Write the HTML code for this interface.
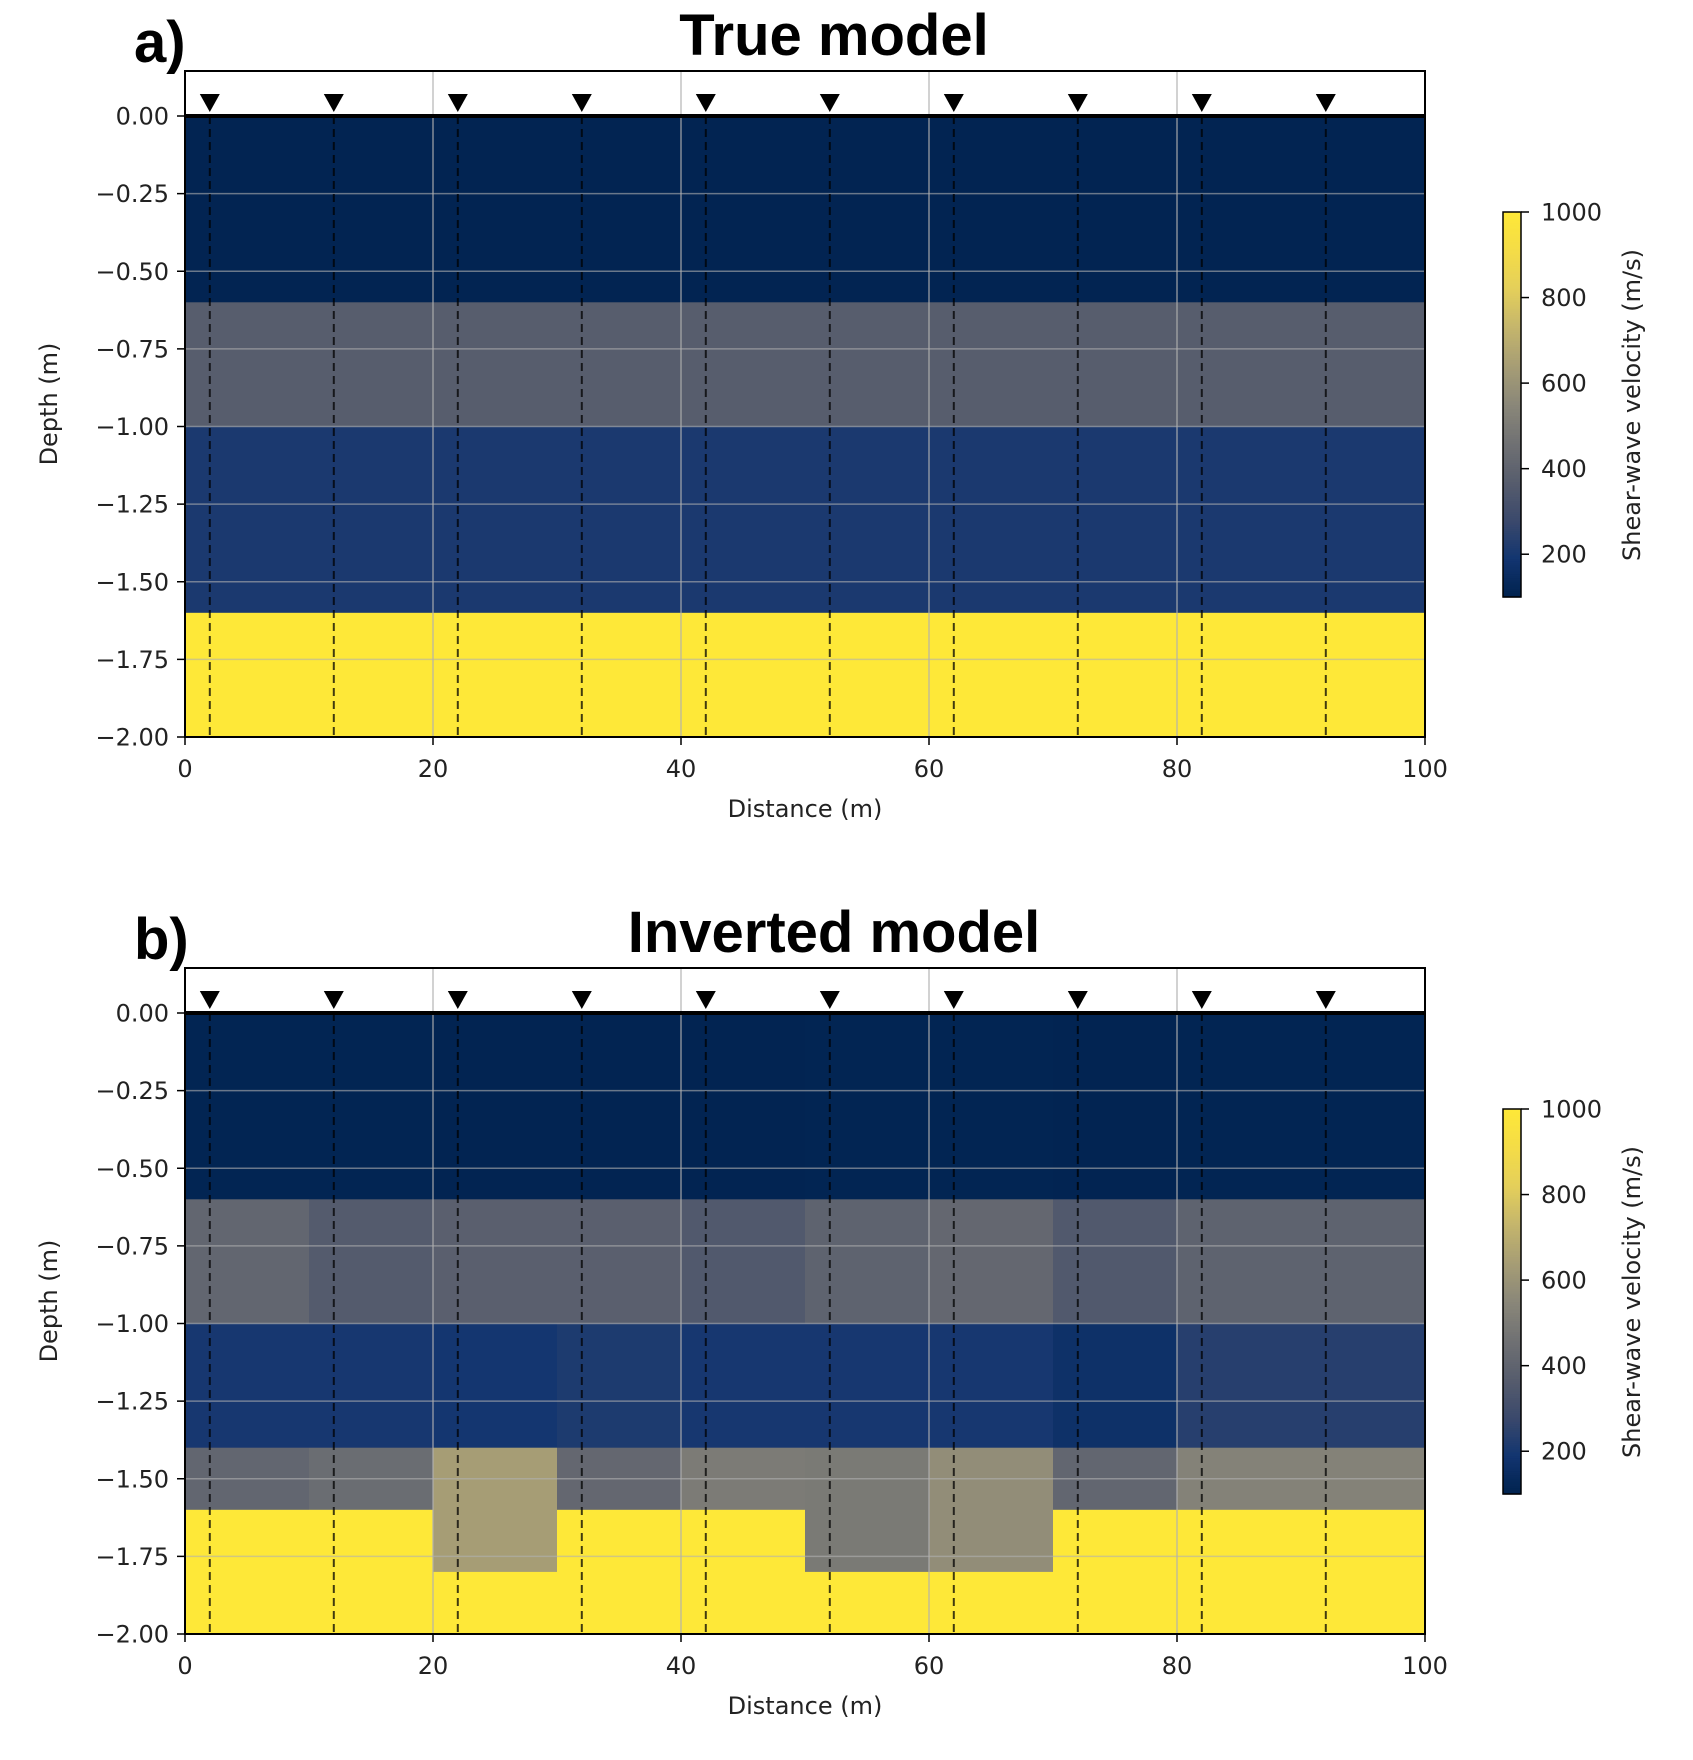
<!DOCTYPE html>
<html><head><meta charset="utf-8"><style>
html,body{margin:0;padding:0;background:#fff;}
svg{display:block;}
text{font-family:"DejaVu Sans","Liberation Sans",sans-serif;fill:#222;}
.bold{font-family:"Liberation Sans","DejaVu Sans",sans-serif;font-weight:bold;fill:#000;}
</style></head><body>
<svg id="fig" width="1693" height="1760" viewBox="0 0 1693 1760" xmlns="http://www.w3.org/2000/svg"></svg>
<script>
// ---- data ----
const xTicks = [0, 20, 40, 60, 80, 100];
const yTicks = [0, -0.25, -0.5, -0.75, -1.0, -1.25, -1.5, -1.75, -2.0];
const yTickLabels = ["0.00","\u22120.25","\u22120.50","\u22120.75","\u22121.00","\u22121.25","\u22121.50","\u22121.75","\u22122.00"];
const cbTicks = [200, 400, 600, 800, 1000];
const stations = [2, 12, 22, 32, 42, 52, 62, 72, 82, 92];
const colEdges = [0, 10, 20, 30, 40, 50, 60, 70, 80, 90, 100];
// true model layers
const trueTops = [0, -0.6, -1.0, -1.6];
const trueBottoms = [-0.6, -1.0, -1.6, -2.0];
const trueVel = [110, 370, 210, 1000];
// inverted model (per 10 m column)
const invL1 = [112, 112, 110, 110, 110, 112, 112, 110, 112, 112];
const invL2 = [410, 360, 380, 380, 350, 395, 415, 350, 395, 395];
const invL3 = [200, 200, 195, 215, 200, 200, 200, 170, 235, 235];
const invL4 = [410, 440, 640, 415, 500, 495, 575, 410, 530, 530];
const invL4Bottom = [-1.6, -1.6, -1.8, -1.6, -1.6, -1.8, -1.8, -1.6, -1.6, -1.6];
const invL5 = [1000, 1000, 1000, 1000, 1000, 1000, 1000, 1000, 1000, 1000];

const VMIN = 100, VMAX = 1000;
const cmap = ["#00224e","#123570","#3b496c","#575d6d","#707173","#8a8779","#a69d75","#c4b56c","#e4cf5b","#f4dc47","#fee838"];
function hex(c){return [parseInt(c.substr(1,2),16),parseInt(c.substr(3,2),16),parseInt(c.substr(5,2),16)];}
function color(v){
  let t=(v-VMIN)/(VMAX-VMIN); t=Math.max(0,Math.min(1,t));
  const f=t*(cmap.length-1); const i=Math.min(cmap.length-2,Math.floor(f)); const r=f-i;
  const a=hex(cmap[i]), b=hex(cmap[i+1]);
  return "rgb("+a.map((x,k)=>Math.round(x+(b[k]-x)*r)).join(",")+")";
}

const NS="http://www.w3.org/2000/svg";
const svg=document.getElementById("fig");
function el(tag, attrs, parent, txt){
  const e=document.createElementNS(NS,tag);
  for(const k in attrs) e.setAttribute(k,attrs[k]);
  if(txt!==undefined) e.textContent=txt;
  (parent||svg).appendChild(e); return e;
}

function panel(off, label, title, layers, key){
  const L=185, R=1425, T=71+off, Y0=116+off, Y2=737+off;
  const X=v=>L+(v/100)*(R-L);
  const Y=d=>Y0+(d/-2)*(Y2-Y0);
  const g=el("g",{});
  
  
  // cells
  layers.forEach(c=>{
    const r=el("rect",{x:X(c.x0),y:Y(c.top),width:X(c.x1)-X(c.x0)+0.5,height:Y(c.bot)-Y(c.top)+0.5,fill:color(c.v)},g);
    
    
  });
  // grid
  xTicks.forEach(t=>{const l=el("line",{x1:X(t),x2:X(t),y1:T,y2:Y2,stroke:"#b0b0b0","stroke-opacity":0.75,"stroke-width":1.5},g);
     });
  yTicks.forEach(t=>{const l=el("line",{x1:L,x2:R,y1:Y(t),y2:Y(t),stroke:"#b0b0b0","stroke-opacity":0.6,"stroke-width":1.5},g);
     });
  // stations
  stations.forEach(s=>{
    const l=el("line",{x1:X(s),x2:X(s),y1:Y(0),y2:Y2,stroke:"#000","stroke-opacity":0.75,"stroke-width":2,"stroke-dasharray":"8,5"},g);
     
    const p=el("polygon",{points:(X(s)-10)+","+(T+23)+" "+(X(s)+10)+","+(T+23)+" "+X(s)+","+(T+41),fill:"#000"},g);
     
  });
  const sl=el("line",{x1:L,x2:R,y1:Y(0),y2:Y(0),stroke:"#000","stroke-width":4},g);
   
  const fr=el("rect",{x:L,y:T,width:R-L,height:Y2-T,fill:"none",stroke:"#000","stroke-width":2},g);
   
  // ticks
  yTicks.forEach((t,i)=>{
    el("line",{x1:L-8,x2:L,y1:Y(t),y2:Y(t),stroke:"#000","stroke-width":1.5},g);
    const tx=el("text",{x:L-16,y:Y(t)+8.5,"font-size":24,"text-anchor":"end"},g,yTickLabels[i]);
     
  });
  xTicks.forEach(t=>{
    el("line",{x1:X(t),x2:X(t),y1:Y2,y2:Y2+8,stroke:"#000","stroke-width":1.5},g);
    const tx=el("text",{x:X(t),y:Y2+40,"font-size":24,"text-anchor":"middle"},g,String(t));
     
  });
  const xl=el("text",{x:805,y:Y2+80,"font-size":24,"text-anchor":"middle"},g,"Distance (m)");
   
  const cy=(T+Y2)/2;
  const yl=el("text",{x:0,y:0,"font-size":24,"text-anchor":"middle",transform:"translate(57,"+cy+") rotate(-90)"},g,"Depth (m)");
   
  const ti=el("text",{x:834,y:55+off,"font-size":58,"text-anchor":"middle","class":"bold"},g,title);
   
  const pl=el("text",{x:134,y:62+off,"font-size":58,"class":"bold"},g,label);
   
  // colorbar
  const cL=1503,cR=1521,cT=212+off,cB=597+off;
  const CY=v=>cB-(v-VMIN)/(VMAX-VMIN)*(cB-cT);
  const cb=el("g",{},g);
   
  for(let v=VMIN; v<VMAX; v+=5){
    el("rect",{x:cL,y:CY(v+5),width:cR-cL,height:CY(v)-CY(v+5)+0.6,fill:color(v+2.5)},cb);
  }
  el("rect",{x:cL,y:cT,width:cR-cL,height:cB-cT,fill:"none",stroke:"#000","stroke-width":1.5},cb);
  cbTicks.forEach(t=>{
    el("line",{x1:cR,x2:cR+8,y1:CY(t),y2:CY(t),stroke:"#000","stroke-width":1.5},cb);
    const tx=el("text",{x:cR+20,y:CY(t)+8.5,"font-size":24},cb,String(t));
     
  });
  const cl=el("text",{x:0,y:0,"font-size":24,"text-anchor":"middle",transform:"translate(1640,"+(405+off)+") rotate(-90)"},cb,"Shear-wave velocity (m/s)");
   
}

const trueCells = trueVel.map((v,i)=>({x0:0,x1:100,top:trueTops[i],bot:trueBottoms[i],v:v}));
const invCells = [];
for(let c=0;c<10;c++){
  const x0=colEdges[c], x1=colEdges[c+1];
  invCells.push({x0,x1,top:0,bot:-0.6,v:invL1[c]});
  invCells.push({x0,x1,top:-0.6,bot:-1.0,v:invL2[c]});
  invCells.push({x0,x1,top:-1.0,bot:-1.4,v:invL3[c]});
  invCells.push({x0,x1,top:-1.4,bot:invL4Bottom[c],v:invL4[c]});
  invCells.push({x0,x1,top:invL4Bottom[c],bot:-2.0,v:invL5[c]});
}
panel(0,"a)","True model",trueCells,"true-model");
panel(897,"b)","Inverted model",invCells,"inverted-model");
</script>
</body></html>
